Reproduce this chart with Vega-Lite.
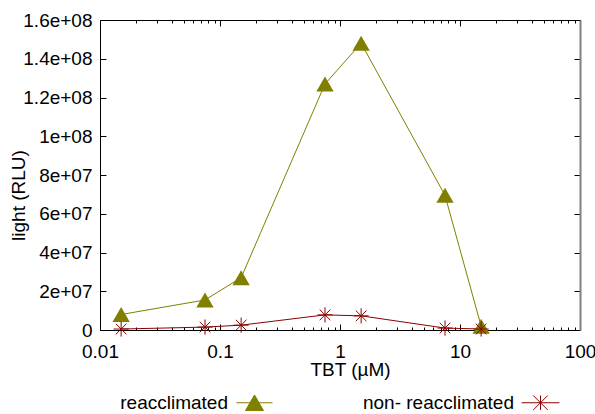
{
  "$schema": "https://vega.github.io/schema/vega-lite/v6.json",
  "width": 480,
  "height": 310,
  "autosize": {"type": "none"},
  "padding": {"left": 100, "top": 20, "right": 15, "bottom": 84},
  "background": "white",
  "config": {
    "view": {"stroke": null},
    "font": "Liberation Sans",
    "axis": {"grid": false, "domainColor": "black", "domainWidth": 1, "labelFont": "Liberation Sans", "titleFont": "Liberation Sans", "labelFontSize": 19, "titleFontSize": 19, "titleFontWeight": "normal", "labelColor": "black", "titleColor": "black", "tickColor": "black", "labelFlush": false, "labelOverlap": false}
  },
  "data": {"values": [
    {"x": 0.015, "y": 8000000, "series": "reacclimated"},
    {"x": 0.075, "y": 15500000, "series": "reacclimated"},
    {"x": 0.15, "y": 27000000, "series": "reacclimated"},
    {"x": 0.75, "y": 127000000, "series": "reacclimated"},
    {"x": 1.5, "y": 148000000, "series": "reacclimated"},
    {"x": 7.5, "y": 69500000, "series": "reacclimated"},
    {"x": 15, "y": 2000000, "series": "reacclimated"},
    {"x": 0.015, "y": 500000, "series": "non- reacclimated"},
    {"x": 0.075, "y": 1500000, "series": "non- reacclimated"},
    {"x": 0.15, "y": 2500000, "series": "non- reacclimated"},
    {"x": 0.75, "y": 7800000, "series": "non- reacclimated"},
    {"x": 1.5, "y": 7300000, "series": "non- reacclimated"},
    {"x": 7.5, "y": 1000000, "series": "non- reacclimated"},
    {"x": 15, "y": 500000, "series": "non- reacclimated"}
  ]},
  "resolve": {"axis": {"x": "independent", "y": "independent"}},
  "layer": [
    {
      "encoding": {
        "x": {"field": "x", "type": "quantitative", "scale": {"type": "log", "domain": [0.01, 100], "nice": false},
          "axis": {"orient": "bottom", "title": "TBT (µM)", "titleX": 250, "titleY": 45, "titleBaseline": "alphabetic", "titleAlign": "center",
            "values": [0.01,0.02,0.03,0.04,0.05,0.06,0.07,0.08,0.09,0.1,0.2,0.3,0.4,0.5,0.6,0.7,0.8,0.9,1,2,3,4,5,6,7,8,9,10,20,30,40,50,60,70,80,90,100],
            "tickSize": {"condition": {"test": "indexof([0.01,0.1,1,10,100], datum.value) >= 0", "value": -6}, "value": -3},
            "labelBaseline": "alphabetic", "labelPadding": 33,
            "labelExpr": "indexof([0.01,0.1,1,10,100], datum.value) >= 0 ? format(datum.value, '~g') : ''"}},
        "y": {"field": "y", "type": "quantitative", "scale": {"domain": [0, 160000000], "nice": false},
          "axis": {"orient": "left", "title": "light (RLU)", "titleX": -72, "titleY": 175, "titleAlign": "center", "titleBaseline": "bottom", "titleAngle": -90,
            "values": [0, 20000000, 40000000, 60000000, 80000000, 100000000, 120000000, 140000000, 160000000], "tickSize": -6, "labelPadding": 14,
            "labelExpr": "datum.value == 0 ? '0' : replace(format(datum.value, '.2~e'), 'e+', 'e+0')"}}
      },
      "layer": [
        {
          "mark": {"type": "line", "strokeWidth": 1},
          "encoding": {
            "stroke": {"field": "series", "type": "nominal", "scale": {"domain": ["reacclimated", "non- reacclimated"], "range": ["#808000", "#8b0000"]}}
          }
        },
        {
          "transform": [{"filter": "datum.series === 'reacclimated'"}],
          "mark": {"type": "point", "filled": true, "opacity": 1, "shape": "triangle-up", "size": 300, "color": "#808000", "strokeWidth": 1}
        },
        {
          "transform": [{"filter": "datum.series === 'non- reacclimated'"}],
          "mark": {"type": "point", "filled": false, "opacity": 1, "shape": "M-1,0H1M0,-1V1M-0.7,-0.7L0.7,0.7M-0.7,0.7L0.7,-0.7", "size": 230, "color": "#8b0000", "strokeWidth": 1}
        },
        {
          "transform": [{"filter": "datum.series === 'none'"}],
          "mark": {"type": "point", "filled": true, "opacity": 1, "strokeWidth": 1, "size": 324},
          "encoding": {
            "color": {"field": "series", "type": "nominal", "scale": {"domain": ["reacclimated", "non- reacclimated"], "range": ["#808000", "#8b0000"]},
              "legend": {"title": null, "orient": "none", "direction": "horizontal", "legendX": 145, "legendY": 373, "padding": 0, "labelFontSize": 19, "labelFont": "Liberation Sans", "labelColor": "black", "symbolSize": 324, "symbolStrokeWidth": 1, "symbolOpacity": 1, "columnPadding": 87, "labelLimit": 300,
                "encode": {"labels": {"update": {"x": {"value": -17}, "align": {"value": "right"}}}}}},
            "stroke": {"field": "series", "type": "nominal", "scale": {"domain": ["reacclimated", "non- reacclimated"], "range": ["#808000", "#8b0000"]}},
            "shape": {"field": "series", "type": "nominal", "scale": {"domain": ["reacclimated", "non- reacclimated"], "range": ["M-2,0H2M0,-0.866L-1,0.866L1,0.866Z", "M-2.1,0H2.1M0,-0.8V0.8M-0.8,-0.8L0.8,0.8M-0.8,0.8L0.8,-0.8"]}}
          }
        }
      ]
    },
    {
      "mark": {"type": "point", "opacity": 0},
      "encoding": {
        "x": {"field": "x", "type": "quantitative",
          "axis": {"orient": "top", "title": null, "labels": false,
            "values": [0.01,0.02,0.03,0.04,0.05,0.06,0.07,0.08,0.09,0.1,0.2,0.3,0.4,0.5,0.6,0.7,0.8,0.9,1,2,3,4,5,6,7,8,9,10,20,30,40,50,60,70,80,90,100],
            "tickSize": {"condition": {"test": "indexof([0.01,0.1,1,10,100], datum.value) >= 0", "value": -6}, "value": -3}}},
        "y": {"field": "y", "type": "quantitative",
          "axis": {"orient": "right", "title": null, "labels": false, "domainColor": "#808080", "domainWidth": 2,
            "values": [0, 20000000, 40000000, 60000000, 80000000, 100000000, 120000000, 140000000, 160000000], "tickSize": -6}}
      }
    }
  ]
}
